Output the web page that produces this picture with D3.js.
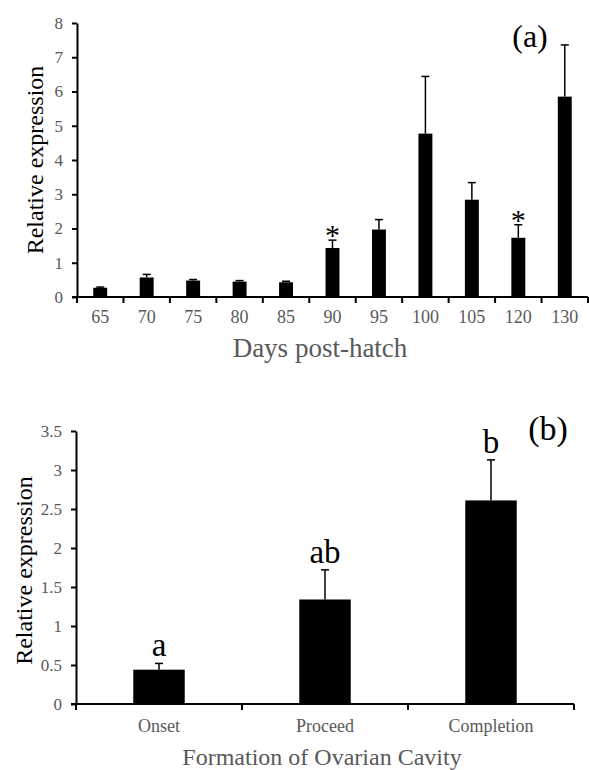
<!DOCTYPE html>
<html>
<head>
<meta charset="utf-8">
<script src="https://cdn.jsdelivr.net/npm/d3@7"></script>
<style>
  body { margin: 0; background: #fff; }
</style>
</head>
<body>
<svg id="fig" width="589" height="770"></svg>
<script>
// panel (a)
var daysCats = ["65", "70", "75", "80", "85", "90", "95", "100", "105", "120", "130"];
var daysMean = [0.27, 0.57, 0.48, 0.45, 0.43, 1.43, 1.97, 4.77, 2.84, 1.73, 5.85];
var daysErr = [0.02, 0.09, 0.03, 0.03, 0.03, 0.23, 0.29, 1.67, 0.50, 0.38, 1.51];
var daysStars = ["90", "120"];
var daysTicks = [0, 1, 2, 3, 4, 5, 6, 7, 8];

// panel (b)
var stageCats = ["Onset", "Proceed", "Completion"];
var stageMean = [0.44, 1.34, 2.61];
var stageErr = [0.08, 0.38, 0.52];
var stageLetters = ["a", "ab", "b"];
var stageTicks = [0, 0.5, 1, 1.5, 2, 2.5, 3, 3.5];

var svg = d3.select('#fig');
var grey = '#595959';
var serif = '"Liberation Serif", "Times New Roman", Times, serif';

function panel(opt) {
  var g = svg.append('g');
  var x = d3.scaleBand().domain(opt.cats).range([opt.left, opt.right]).paddingInner(0).paddingOuter(0);
  var y = d3.scaleLinear().domain(opt.domain).range([opt.bottom, opt.top]);
  var bw = x.bandwidth() * opt.barFrac;

  // bars
  g.selectAll('.bar')
    .data(opt.cats)
    .enter().append('rect')
      .attr('x', function(d) { return x(d) + (x.bandwidth() - bw) / 2; })
      .attr('y', function(d, i) { return y(opt.mean[i]); })
      .attr('width', bw)
      .attr('height', function(d, i) { return y(0) - y(opt.mean[i]); })
      .style('fill', '#000');

  // error bars (upper only)
  var eb = g.selectAll('.err').data(opt.cats).enter().append('g');
  eb.append('line')
    .attr('x1', function(d) { return x(d) + x.bandwidth() / 2; })
    .attr('x2', function(d) { return x(d) + x.bandwidth() / 2; })
    .attr('y1', function(d, i) { return y(opt.mean[i]); })
    .attr('y2', function(d, i) { return y(opt.mean[i] + opt.err[i]); })
    .style('stroke', '#000').style('stroke-width', 1.5);
  eb.append('line')
    .attr('x1', function(d) { return x(d) + x.bandwidth() / 2 - opt.cap; })
    .attr('x2', function(d) { return x(d) + x.bandwidth() / 2 + opt.cap; })
    .attr('y1', function(d, i) { return y(opt.mean[i] + opt.err[i]); })
    .attr('y2', function(d, i) { return y(opt.mean[i] + opt.err[i]); })
    .style('stroke', '#000').style('stroke-width', 1.5);

  // y axis
  var yAxis = d3.axisLeft(y).tickValues(opt.ticks).tickSize(5).tickSizeOuter(0)
    .tickFormat(function(d) { return String(d); });
  var ya = g.append('g').attr('transform', 'translate(' + opt.left + ',0)').call(yAxis)
    .attr('font-family', serif).attr('font-size', opt.tickFont);
  ya.select('.domain').style('stroke', '#000').style('stroke-width', 2);
  ya.selectAll('.tick line').style('stroke', '#000').style('stroke-width', 2);
  ya.selectAll('.tick text').attr('fill', grey).attr('x', -14)
    .style('font-family', serif).style('font-size', opt.tickFont + 'px');

  // x axis: line + ticks at band edges
  g.append('line')
    .attr('x1', opt.left - 5).attr('x2', opt.right)
    .attr('y1', y(0)).attr('y2', y(0))
    .style('stroke', '#000').style('stroke-width', 2);
  var edges = opt.cats.map(function(d) { return x(d); }).concat([opt.right]);
  g.selectAll('.xt').data(edges).enter().append('line')
    .attr('x1', function(d) { return d; }).attr('x2', function(d) { return d; })
    .attr('y1', y(0)).attr('y2', y(0) + 6)
    .style('stroke', '#000').style('stroke-width', 2);
  g.selectAll('.xl').data(opt.cats).enter().append('text')
    .attr('x', function(d) { return x(d) + x.bandwidth() / 2; })
    .attr('y', y(0) + opt.catDy)
    .attr('text-anchor', 'middle')
    .style('font-family', serif)
    .style('fill', grey).style('font-size', opt.catFont + 'px')
    .text(function(d) { return d; });

  // titles
  g.append('text')
    .attr('transform', 'translate(' + opt.yTitleX + ',' + ((opt.top + opt.bottom) / 2 + opt.yTitleDy) + ') rotate(-90)')
    .attr('text-anchor', 'middle')
    .style('font-family', serif)
    .style('font-size', '24px').style('fill', '#000')
    .text('Relative expression');
  g.append('text')
    .attr('x', opt.xTitleX).attr('y', opt.xTitleY)
    .attr('text-anchor', 'middle')
    .style('font-family', serif)
    .style('font-size', opt.xTitleFont + 'px').style('fill', grey)
    .text(opt.xTitle);
  g.append('text')
    .attr('x', opt.tagX).attr('y', opt.tagY)
    .attr('text-anchor', 'middle')
    .style('font-family', serif)
    .style('font-size', opt.tagFont + 'px').style('fill', '#000')
    .text(opt.tag);

  return { g: g, x: x, y: y };
}

var pa = panel({
  cats: daysCats, mean: daysMean, err: daysErr, ticks: daysTicks, domain: [0, 8],
  left: 77, right: 588, top: 23, bottom: 297, barFrac: 0.3, cap: 4,
  tickFont: 17, catFont: 18, catDy: 26, yTitleX: 43, yTitleDy: 0,
  xTitle: 'Days post-hatch', xTitleX: 320, xTitleY: 357, xTitleFont: 27,
  tag: '(a)', tagX: 530, tagY: 47, tagFont: 32
});
pa.g.selectAll('.star').data(daysStars).enter().append('text')
  .attr('x', function(d) { return pa.x(d) + pa.x.bandwidth() / 2; })
  .attr('y', function(d) { var i = daysCats.indexOf(d); return pa.y(daysMean[i] + daysErr[i]) + 5; })
  .attr('text-anchor', 'middle')
  .style('font-family', serif)
  .style('font-size', '30px').style('fill', '#000')
  .text('*');

var pb = panel({
  cats: stageCats, mean: stageMean, err: stageErr, ticks: stageTicks, domain: [0, 3.5],
  left: 76, right: 574, top: 431, bottom: 704, barFrac: 0.31, cap: 4,
  tickFont: 17, catFont: 18, catDy: 28, yTitleX: 32, yTitleDy: 3,
  xTitle: 'Formation of Ovarian Cavity', xTitleX: 322, xTitleY: 765, xTitleFont: 24,
  tag: '(b)', tagX: 548, tagY: 440, tagFont: 34
});
pb.g.selectAll('.letter').data(stageCats).enter().append('text')
  .attr('x', function(d) { return pb.x(d) + pb.x.bandwidth() / 2; })
  .attr('y', function(d, i) { return pb.y(stageMean[i] + stageErr[i]) - 7; })
  .attr('text-anchor', 'middle')
  .style('font-family', serif)
  .style('font-size', '33px').style('fill', '#000')
  .text(function(d, i) { return stageLetters[i]; });
</script>
</body>
</html>
